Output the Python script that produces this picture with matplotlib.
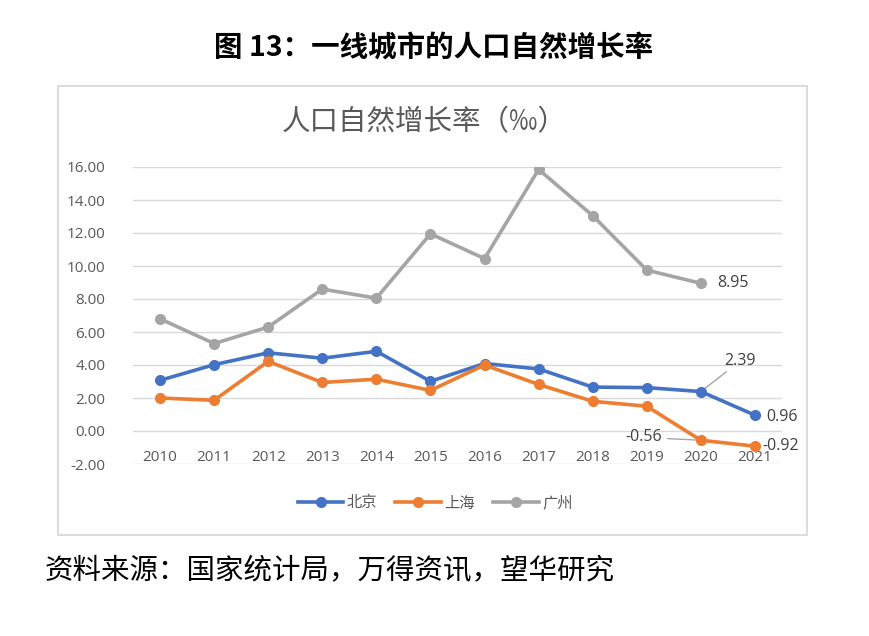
import numpy as np
import matplotlib
matplotlib.use('Agg')
import matplotlib.pyplot as plt
from matplotlib.patches import Rectangle

plt.rcParams['font.family'] = ['Noto Sans CJK SC', 'DejaVu Sans']

# data: natural population growth rate (per mille)
years = ['2010', '2011', '2012', '2013', '2014', '2015', '2016', '2017',
         '2018', '2019', '2020', '2021']
beijing = [3.07, 4.02, 4.74, 4.41, 4.83, 3.01, 4.09, 3.76, 2.66, 2.63, 2.39, 0.96]
shanghai = [2.00, 1.86, 4.22, 2.94, 3.14, 2.46, 4.00, 2.82, 1.80, 1.50, -0.56, -0.92]
guangzhou = [6.80, 5.30, 6.30, 8.60, 8.05, 11.95, 10.45, 15.85, 13.05, 9.75, 8.95, np.nan]
yticks = [-2, 0, 2, 4, 6, 8, 10, 12, 14, 16]

W, H = 869, 636
fig = plt.figure(figsize=(W / 100, H / 100), dpi=100)

# outer chart frame
fig.patches.append(Rectangle((58 / W, 1 - 535 / H), (807 - 58) / W, (535 - 86) / H,
                             transform=fig.transFigure, fill=False,
                             ec='#d9d9d9', lw=1.3))

fig.text(434 / W, 1 - 48 / H, '图 13：一线城市的人口自然增长率', ha='center', va='center',
         fontsize=20.5, fontweight='bold', color='black')
fig.text(424 / W, 1 - 122 / H, '人口自然增长率（‰）', ha='center', va='center',
         fontsize=20.5, color='#595959')
fig.text(45 / W, 1 - 571 / H, '资料来源：国家统计局，万得资讯，望华研究', ha='left', va='center',
         fontsize=20.5, color='black')

ax = fig.add_axes([133 / W, 1 - 464 / H, (782 - 133) / W, (464 - 167) / H])
x = np.arange(len(years))

blue, orange, gray = '#4472C4', '#ED7D31', '#A5A5A5'
l1, = ax.plot(x, beijing, color=blue, lw=2.6, marker='o', ms=7, label='北京', zorder=4)
l2, = ax.plot(x, shanghai, color=orange, lw=2.6, marker='o', ms=7, label='上海', zorder=4)
l3, = ax.plot(x, guangzhou, color=gray, lw=2.6, marker='o', ms=7, label='广州', zorder=3)

ax.set_xlim(-0.5, len(years) - 0.5)
ax.set_ylim(-2, 16)
ax.set_yticks(yticks)
ax.set_yticklabels(['%.2f' % v for v in yticks], fontfamily='Open Sans', fontsize=11,
                   color='#595959')
ax.yaxis.grid(True, color='#d9d9d9', lw=1)
ax.set_axisbelow(True)
ax.tick_params(axis='y', length=0, pad=20)
ax.set_xticks([])
for s in ax.spines.values():
    s.set_visible(False)

# category labels sit next to the zero line
for i, yr in enumerate(years):
    ax.text(i, -1.6, yr, ha='center', va='center', fontfamily='Open Sans',
            fontsize=11, color='#595959', zorder=2)

lab = dict(fontfamily='Open Sans', fontsize=11.5, color='#404040', va='center')
ax.annotate('2.39', xy=(10, beijing[10]), xytext=(17, 22), textcoords='offset points',
            ha='left', arrowprops=dict(arrowstyle='-', color='#a6a6a6', lw=1,
                                       shrinkA=0, shrinkB=2), **lab)
ax.annotate('-0.56', xy=(10, shanghai[10]), xytext=(-28, 2), textcoords='offset points',
            ha='right', arrowprops=dict(arrowstyle='-', color='#a6a6a6', lw=1,
                                        shrinkA=2, shrinkB=3), **lab)
ax.annotate('0.96', xy=(11, beijing[11]), xytext=(8, -1), textcoords='offset points',
            ha='left', **lab)
ax.annotate('-0.92', xy=(11, shanghai[11]), xytext=(5, 0), textcoords='offset points',
            ha='left', **lab)
ax.annotate('8.95', xy=(10, guangzhou[10]), xytext=(12, 0), textcoords='offset points',
            ha='left', **lab)

fig.legend(handles=[l1, l2, l3], loc='center', bbox_to_anchor=(435 / W, 1 - 503 / H),
           ncol=3, frameon=False, handlelength=3.0, columnspacing=1.2, handletextpad=0.2,
           prop={'family': ['Noto Sans CJK SC'], 'size': 11}, labelcolor='#595959')

fig.savefig('out.png', dpi=100)
